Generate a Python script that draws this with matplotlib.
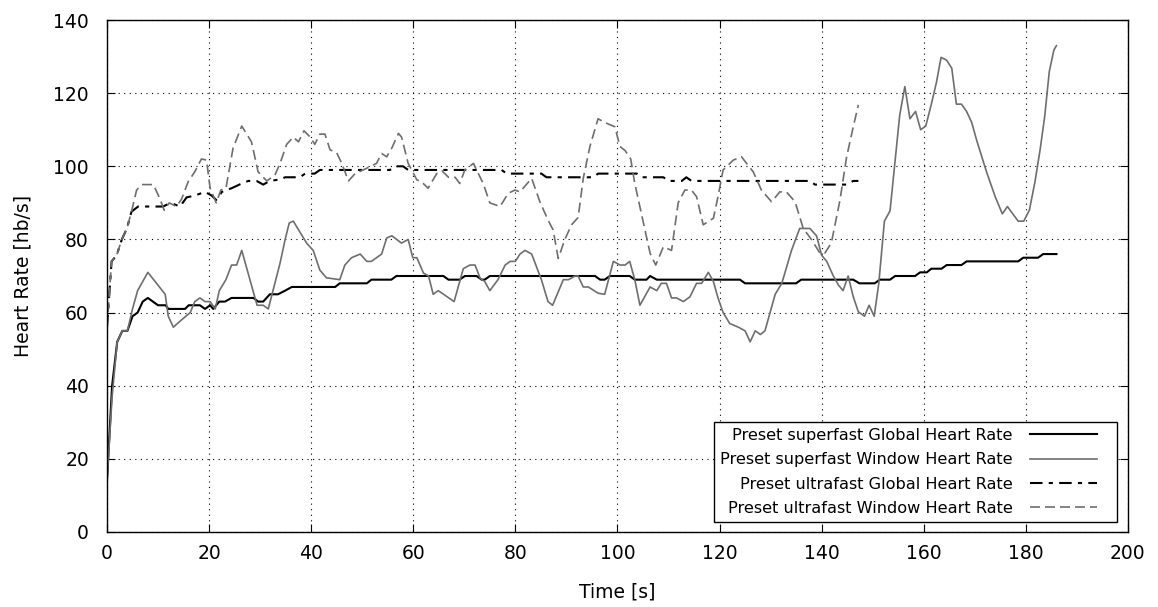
import numpy as np
import matplotlib
matplotlib.use("Agg")
import matplotlib.pyplot as plt
from matplotlib.lines import Line2D
from matplotlib.legend_handler import HandlerLine2D

# superfast preset, global heart rate
sf_global_t = [0, 1, 2, 3, 4, 5, 6, 7, 8, 10,
               11.5, 12, 15.3, 16, 18.2, 19.2, 20.2, 20.8, 22, 23.1,
               24.4, 28.7, 29.6, 30.6, 31.9, 33.5, 34.9, 36.2, 44.7, 45.6,
               50.9, 51.8, 55.7, 56.7, 65.9, 66.9, 69.1, 70.1, 72.4, 73.4,
               74, 75, 94.6, 95.6, 96.6, 97.5, 98.5, 102.4, 103.4, 105.7,
               106.4, 107.7, 124, 125, 135, 136, 146.2, 147.4, 150.4, 151.4,
               153.4, 154.4, 158.3, 159.3, 160.6, 161.5, 163.5, 164.5, 167.4, 168.4,
               178.5, 179.5, 182.4, 183.4, 186]
sf_global_v = [14, 40, 52, 55, 55, 59, 60, 63, 64, 62,
               62, 61, 61, 62, 62, 61, 62, 61, 63, 63,
               64, 64, 63, 63, 65, 65, 66, 67, 67, 68,
               68, 69, 69, 70, 70, 69, 69, 70, 70, 69,
               69, 70, 70, 70, 69, 69, 70, 70, 69, 69,
               70, 69, 69, 68, 68, 69, 69, 68, 68, 69,
               69, 70, 70, 71, 71, 72, 72, 73, 73, 74,
               74, 75, 75, 76, 76]

# superfast preset, window heart rate
sf_window_t = [0, 1, 2, 3, 4, 5, 6, 8, 11.4, 12,
               13, 14.6, 16.3, 17.2, 18.2, 19.2, 20.2, 21.2, 22, 23.3,
               24.4, 25.4, 26.4, 29.4, 30.6, 31.6, 33.9, 34.9, 35.7, 36.5,
               37.8, 39.1, 40.4, 41.7, 43, 45.6, 46.6, 47.9, 49.6, 50.9,
               51.8, 53.8, 54.8, 55.8, 57.7, 59, 59.9, 60.7, 62, 63,
               63.9, 64.9, 68, 69.8, 71.1, 72.1, 73.1, 74, 75, 76.6,
               78, 79, 80, 80.9, 81.9, 83.2, 85.1, 86.4, 87.3, 89.4,
               90.4, 91.7, 92.3, 93.3, 94.3, 96.2, 97.5, 99.2, 100.5, 101.5,
               102.4, 103.4, 104.4, 106.4, 107.7, 108.6, 109.6, 110.6, 111.6, 112.9,
               114.2, 115.5, 116.5, 117.8, 118.8, 119.7, 120.7, 122, 123.7, 125,
               126, 127, 128, 128.9, 130.9, 132.2, 134.1, 135.7, 137.7, 139,
               140, 141, 142.3, 143.3, 144.2, 145.2, 146.2, 147.2, 148.4, 149.3,
               150.3, 151.2, 152.3, 153.4, 155.3, 156.3, 157.3, 158.4, 159.4, 160.4,
               161.5, 162.5, 163.4, 164.5, 165.5, 166.4, 167.4, 168.4, 169.4, 170.4,
               172.3, 174, 175.4, 176.4, 178.5, 179.6, 180.7, 181.8, 182.8, 183.7,
               184.6, 185.5, 186]
sf_window_v = [14, 37, 52, 55, 55, 61, 66, 71, 65, 59,
               56, 58, 60, 63, 64, 63, 63, 61, 66, 69,
               73, 73, 77, 62, 62, 61, 73.5, 80, 84.5, 85,
               82, 79, 77, 71.6, 69.5, 69, 73, 75, 76, 74,
               74, 76, 80.4, 81, 79, 80, 75, 75, 70.8, 70,
               65, 66, 63, 72, 73, 73, 69.4, 68.5, 66, 69,
               73, 74, 74, 76, 77, 76, 69, 63, 62, 69,
               69, 70, 70, 67, 67, 65.3, 65, 74, 73, 73,
               74, 69, 62, 67, 66, 68, 68, 64, 64, 63,
               64.3, 68, 68, 71, 68.5, 64, 60, 57, 56, 55,
               52, 55, 54, 55, 65, 68, 77, 83, 83, 81,
               75.7, 74, 70, 67.5, 66, 70, 64.3, 60.2, 59, 62,
               59, 68, 85, 87.8, 114, 121.8, 113, 115, 110, 111,
               117, 123, 129.8, 129, 126.8, 117, 117, 115, 112, 107,
               98.5, 91.7, 87, 89, 85, 85, 88, 95.8, 104.5, 113.6,
               125.9, 131.8, 133]

# ultrafast preset, global heart rate
uf_global_t = [0, 0.9, 1.9, 2.9, 3.9, 4.8, 6.1, 11, 12, 13,
               14.3, 15.6, 17.2, 19.2, 20.5, 21.4, 22.5, 24.4, 26.4, 27.7,
               29.3, 30.6, 31.9, 33.9, 34.9, 37.8, 38.8, 40.7, 41.7, 55.4,
               56.7, 58, 59, 77.3, 78.3, 85.1, 86.1, 95.3, 96.2, 103.8,
               104.7, 109, 110, 112.6, 113.5, 114.5, 137.7, 138.7, 144.9, 146.2,
               147.2]
uf_global_v = [56, 74, 75.7, 80, 83, 87.6, 89, 89, 89.7, 89.7,
               89, 91.5, 92, 93, 92, 90.8, 93, 94, 95.3, 96,
               96, 95, 96, 96.4, 97, 97, 98, 98, 99, 99,
               100, 100, 99, 99, 98, 98, 97, 97, 98, 98,
               97, 97, 96, 96, 97, 96, 96, 95, 95, 96,
               96]

# ultrafast preset, window heart rate
uf_window_t = [0, 0.9, 1.9, 2.9, 3.9, 4.8, 5.8, 6.8, 9.1, 10.4,
               11.2, 12.2, 13.6, 14.6, 15.9, 17.2, 18.5, 19.5, 20.2, 21.4,
               22.3, 23.3, 24.7, 26.4, 28.3, 29.6, 31.3, 32.9, 33.9, 35.2,
               36.5, 37.5, 38.6, 39.8, 40.7, 41.7, 42.7, 43.7, 45, 46,
               47.3, 48.6, 50.2, 52.8, 53.8, 54.8, 55.8, 57.1, 57.7, 59,
               60.7, 61.6, 62.9, 64.6, 65.6, 66.9, 68.2, 69.1, 70.1, 71.8,
               72.4, 73.7, 75, 77, 78.6, 79.9, 80.9, 83.2, 84.8, 86.4,
               87.4, 88.4, 89.7, 91, 92.3, 93.3, 94.6, 96.2, 97.5, 99.5,
               100.5, 101.5, 102.6, 103.4, 104.7, 106.4, 107.5, 109, 110.6, 111.9,
               113.2, 114.5, 115.5, 116.8, 118.8, 119.7, 120.7, 122.7, 124.3, 125.3,
               126.6, 128.2, 130.2, 131.8, 133.1, 134.8, 136.4, 138, 139.7, 140.6,
               141.9, 143.6, 144.9, 146.2, 147.2]
uf_window_v = [56, 74, 75.7, 80, 83, 87.6, 93.5, 95, 95, 91,
               88, 90, 89, 91, 95.8, 98.5, 102, 101.7, 94, 90,
               93.5, 94, 105, 111, 106.7, 98.5, 96, 97.6, 100.8, 106,
               108, 106.7, 109.7, 108, 106, 108.8, 108.8, 104.5, 103.7, 100.8,
               96, 98, 99, 100.8, 103.5, 102.6, 105, 109, 108, 100.8,
               96.3, 95.8, 94, 98, 98.8, 97, 97, 95.3, 99, 100.8,
               99, 95.3, 90, 89, 92.6, 93.5, 93, 96.7, 90.3, 85.3,
               82.6, 74.8, 80, 84, 86, 96.7, 105.4, 113, 112, 110.8,
               105.4, 104.3, 102, 95.3, 87, 76.2, 73, 78, 77, 90,
               93.5, 93.5, 91.7, 84, 85.8, 91.7, 99, 101.7, 102.6, 100.8,
               98.5, 93.5, 90.3, 93, 93, 90.3, 83, 80, 76.2, 76.2,
               79, 90.8, 102.6, 110.8, 116.8]

labels = ["Preset superfast Global Heart Rate",
          "Preset superfast Window Heart Rate",
          "Preset ultrafast Global Heart Rate",
          "Preset ultrafast Window Heart Rate"]


# legend line that stops short of the right edge of its box
class ShortLine(HandlerLine2D):
    def __init__(self, gap, **kw):
        super().__init__(**kw)
        self.gap = gap

    def create_artists(self, legend, orig_handle, xdescent, ydescent,
                       width, height, fontsize, trans):
        return super().create_artists(legend, orig_handle, xdescent, ydescent,
                                      width - self.gap, height, fontsize, trans)


plt.rcParams['font.family'] = ['DejaVu Sans']

fig = plt.figure(figsize=(11.58, 6.07), dpi=100)
ax = fig.add_axes([0.0924, 0.1236, 0.8816, 0.8434])

gray = '#6e6e6e'
ax.plot(sf_global_t, sf_global_v, color='black', lw=1.5, label=labels[0])
ax.plot(sf_window_t, sf_window_v, color=gray, lw=1.2, label=labels[1])
ax.plot(uf_global_t, uf_global_v, color='black', lw=1.5,
        dashes=(6, 3, 2, 3), label=labels[2])
ax.plot(uf_window_t, uf_window_v, color=gray, lw=1.2,
        dashes=(6, 3), label=labels[3])

ax.set_xlim(0, 200)
ax.set_ylim(0, 140)
ax.set_xticks(np.arange(0, 201, 20))
ax.set_yticks(np.arange(0, 141, 20))
ax.grid(True, color='black', linestyle=(0, (1, 4)), lw=0.8)
ax.tick_params(direction='in', top=True, right=True, length=6, width=0.8,
               labelsize=13.5, pad=9)
ax.tick_params(axis='y', pad=13)
for s in ax.spines.values():
    s.set_linewidth(1.0)

ax.set_xlabel("Time [s]", fontsize=13.5, labelpad=14)
ax.set_ylabel("Heart Rate [hb/s]", fontsize=13.5, labelpad=15)

# markerfirst=False puts the handles on the right and right-aligns the rows
leg = ax.legend(loc='lower right', markerfirst=False, fontsize=11.6,
                handlelength=5.1, labelspacing=0.58, borderaxespad=0.65,
                fancybox=False, framealpha=1, edgecolor='black',
                borderpad=0.35, handletextpad=1.05,
                handler_map={Line2D: ShortLine(10.4)})
leg.get_frame().set_linewidth(1.0)

fig.savefig("out.png", dpi=100)
